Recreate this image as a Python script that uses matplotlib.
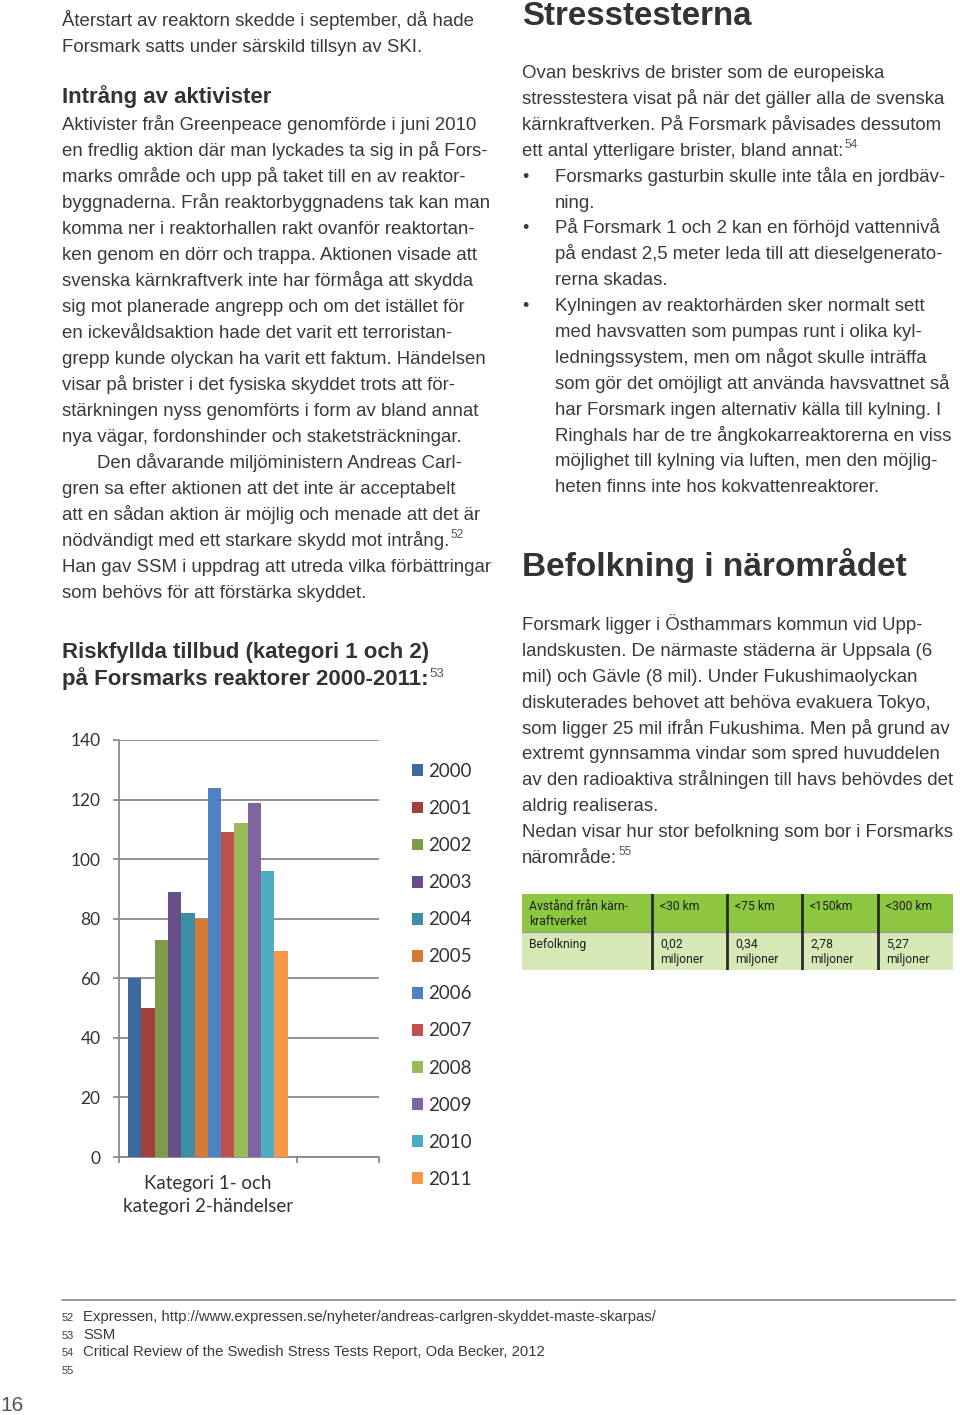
import matplotlib
matplotlib.use('Agg')
import matplotlib.pyplot as plt
from matplotlib.patches import Rectangle, Patch
from matplotlib.lines import Line2D
import numpy as np

# ---------------- data ----------------
years = ['2000', '2001', '2002', '2003', '2004', '2005',
         '2006', '2007', '2008', '2009', '2010', '2011']
events = [60, 50, 73, 89, 82, 80, 124, 109, 112, 119, 96, 69]
category_label = 'Kategori 1- och\nkategori 2-händelser'
y_ticks = [0, 20, 40, 60, 80, 100, 120, 140]
bar_colors = ['#3C699E', '#A23F3C', '#7E9B48', '#684F87', '#3A8FA4', '#D47A33',
              '#4F81C5', '#C0504D', '#9BBB59', '#8064A2', '#4BACC6', '#F79646']

table_header = ['Avstånd från kärn-\nkraftverket', '<30 km', '<75 km', '<150km', '<300 km']
table_row = ['Befolkning', '0,02\nmiljoner', '0,34\nmiljoner', '2,78\nmiljoner', '5,27\nmiljoner']

# ---------------- page setup ----------------
W, H, DPI = 960, 1415, 100
fig = plt.figure(figsize=(W / DPI, H / DPI), dpi=DPI)
fig.patch.set_facecolor('white')

BODY = ['Liberation Sans', 'DejaVu Sans']
BODY_C = '#3a3a3a'
HEAD_C = '#333333'
BODY_FS = 13.45


def fx(x):
    return x / W


def fy(y):
    return 1 - y / H


def txt(x, y, s, size=BODY_FS, weight='normal', color=BODY_C, family=BODY, **kw):
    return fig.text(fx(x), fy(y), s, va='baseline', ha='left', fontsize=size,
                    fontweight=weight, color=color, family=family, **kw)


renderer = fig.canvas.get_renderer()


def sup(t, s, dy=8, size=8.5):
    bb = t.get_window_extent(renderer=renderer)
    x = bb.x1 + 1
    y_base = t.get_position()[1] * H
    fig.text(x / W, (y_base + dy) / H, s, va='baseline', ha='left', fontsize=size,
             color='#555555', family=BODY)


LS = 26.0

# ---------------- left column ----------------
para1 = ["Återstart av reaktorn skedde i september, då hade",
         "Forsmark satts under särskild tillsyn av SKI."]
for i, line in enumerate(para1):
    txt(62, 26 + i * LS, line)

txt(62, 103, "Intrång av aktivister", size=16, weight='bold', color=HEAD_C)

para2 = ["Aktivister från Greenpeace genomförde i juni 2010",
         "en fredlig aktion där man lyckades ta sig in på Fors-",
         "marks område och upp på taket till en av reaktor-",
         "byggnaderna. Från reaktorbyggnadens tak kan man",
         "komma ner i reaktorhallen rakt ovanför reaktortan-",
         "ken genom en dörr och trappa. Aktionen visade att",
         "svenska kärnkraftverk inte har förmåga att skydda",
         "sig mot planerade angrepp och om det istället för",
         "en ickevåldsaktion hade det varit ett terroristan-",
         "grepp kunde olyckan ha varit ett faktum. Händelsen",
         "visar på brister i det fysiska skyddet trots att för-",
         "stärkningen nyss genomförts i form av bland annat",
         "nya vägar, fordonshinder och staketsträckningar.",
         "Den dåvarande miljöministern Andreas Carl-",
         "gren sa efter aktionen att det inte är acceptabelt",
         "att en sådan aktion är möjlig och menade att det är",
         "nödvändigt med ett starkare skydd mot intrång.",
         "Han gav SSM i uppdrag att utreda vilka förbättringar",
         "som behövs för att förstärka skyddet."]
for i, line in enumerate(para2):
    x0 = 97 if line.startswith("Den dåvarande") else 62
    t = txt(x0, 130 + i * LS, line)
    if line.endswith("intrång."):
        sup(t, "52")

t1 = txt(62, 658, "Riskfyllda tillbud (kategori 1 och 2)", size=16, weight='bold', color=HEAD_C)
t2 = txt(62, 685, "på Forsmarks reaktorer 2000-2011:", size=16, weight='bold', color=HEAD_C)
sup(t2, "53", dy=8, size=9.5)

# ---------------- right column ----------------
txt(522, 25, "Stresstesterna", size=23.8, weight='bold', color=HEAD_C)

RLS = 25.9
right_lines = [(None, "Ovan beskrivs de brister som de europeiska"),
               (None, "stresstestera visat på när det gäller alla de svenska"),
               (None, "kärnkraftverken. På Forsmark påvisades dessutom"),
               (None, "ett antal ytterligare brister, bland annat:"),
               ("•", "Forsmarks gasturbin skulle inte tåla en jordbäv-"),
               ("", "ning."),
               ("•", "På Forsmark 1 och 2 kan en förhöjd vattennivå"),
               ("", "på endast 2,5 meter leda till att dieselgenerato-"),
               ("", "rerna skadas."),
               ("•", "Kylningen av reaktorhärden sker normalt sett"),
               ("", "med havsvatten som pumpas runt i olika kyl-"),
               ("", "ledningssystem, men om något skulle inträffa"),
               ("", "som gör det omöjligt att använda havsvattnet så"),
               ("", "har Forsmark ingen alternativ källa till kylning. I"),
               ("", "Ringhals har de tre ångkokarreaktorerna en viss"),
               ("", "möjlighet till kylning via luften, men den möjlig-"),
               ("", "heten finns inte hos kokvattenreaktorer.")]
for i, (b, line) in enumerate(right_lines):
    yb = 78 + i * RLS
    if b is None:
        t = txt(522, yb, line)
        if line.endswith("annat:"):
            sup(t, "54")
    else:
        if b:
            txt(522, yb, b, size=13)
        txt(555, yb, line)

txt(522, 576, "Befolkning i närområdet", size=24, weight='bold', color=HEAD_C)

para3 = ["Forsmark ligger i Östhammars kommun vid Upp-",
         "landskusten. De närmaste städerna är Uppsala (6",
         "mil) och Gävle (8 mil). Under Fukushimaolyckan",
         "diskuterades behovet att behöva evakuera Tokyo,",
         "som ligger 25 mil ifrån Fukushima. Men på grund av",
         "extremt gynnsamma vindar som spred huvuddelen",
         "av den radioaktiva strålningen till havs behövdes det",
         "aldrig realiseras.",
         "Nedan visar hur stor befolkning som bor i Forsmarks",
         "närområde:"]
for i, line in enumerate(para3):
    t = txt(522, 630 + i * RLS, line)
    if line == "närområde:":
        sup(t, "55")

# ---------------- table ----------------
col_edges = [522, 652, 727, 802, 878, 953]
row_edges = [894, 932, 970]
row_colors = ['#8DC63F', '#D6E8B6']
tax = fig.add_axes([fx(col_edges[0]), fy(row_edges[-1]),
                    (col_edges[-1] - col_edges[0]) / W, (row_edges[-1] - row_edges[0]) / H])
tax.set_xlim(col_edges[0], col_edges[-1])
tax.set_ylim(row_edges[-1], row_edges[0])
tax.axis('off')
for r, (cells, rc) in enumerate(zip([table_header, table_row], row_colors)):
    tax.add_patch(Rectangle((col_edges[0], row_edges[r]), col_edges[-1] - col_edges[0],
                            row_edges[r + 1] - row_edges[r], facecolor=rc, edgecolor='none'))
    for c, s in enumerate(cells):
        tax.text(col_edges[c] + (7 if c == 0 else 8), row_edges[r] + 6, s, va='top', ha='left',
                 fontsize=8.7, family=['Roboto', 'DejaVu Sans'], color='#1e1e1e',
                 linespacing=1.2)
tax.plot([col_edges[0], col_edges[-1]], [row_edges[1], row_edges[1]], color='#9a9a9a', lw=0.8)
for xe in col_edges[1:-1]:
    tax.plot([xe, xe], [row_edges[0], row_edges[-1]], color='#2a2a2a', lw=2)

# ---------------- chart ----------------
CH = ['Lato', 'DejaVu Sans']
CH_FS = 12.5
CH_FS2 = 13.5
ax = fig.add_axes([fx(119), fy(1157), (379 - 119) / W, (1157 - 740) / H])
n = len(events)
bw = 0.9 / n
pos = -0.45 + bw * (np.arange(n) + 0.5)
bars = ax.bar(pos, events, width=bw, color=bar_colors, edgecolor='none', zorder=3)
xmax = 0.5 + 82 / 177
ax.set_xlim(-0.5, xmax)
ax.set_ylim(0, 140)
ax.set_yticks(y_ticks)
ax.set_yticklabels([str(v) for v in y_ticks], family=CH, fontsize=CH_FS, color='#333333')
ax.yaxis.grid(True, color='#8a8a8a', lw=1.3, zorder=0)
ax.set_axisbelow(True)
for s in ['top', 'right']:
    ax.spines[s].set_visible(False)
for s in ['left', 'bottom']:
    ax.spines[s].set_color('#8a8a8a')
    ax.spines[s].set_linewidth(1.3)
ax.tick_params(axis='y', direction='out', length=4.3, width=1.3, color='#8a8a8a', pad=9)
ax.set_xticks([-0.5, 0.5, xmax])
ax.set_xticklabels(['', '', ''])
ax.tick_params(axis='x', which='major', direction='out', length=4.3, width=1.3, color='#8a8a8a')
ax.set_xticks([0], labels=[category_label], minor=True)
ax.tick_params(axis='x', which='minor', length=0, pad=13)
for t in ax.get_xticklabels(minor=True):
    t.set_family(CH)
    t.set_fontsize(CH_FS2)
    t.set_color('#333333')
    t.set_linespacing(1.45)
    t.set_ha('center')

handles = [Patch(facecolor=c, edgecolor='none') for c in bar_colors]
leg = ax.legend(handles, years, loc='upper left', bbox_to_anchor=(fx(412), fy(763)),
                bbox_transform=fig.transFigure, frameon=False, borderpad=0, borderaxespad=0,
                handlelength=0.6, handleheight=0.6, handletextpad=0.25,
                labelspacing=1.07, prop={'family': CH, 'size': CH_FS2})
for t in leg.get_texts():
    t.set_color('#333333')

# ---------------- footnotes ----------------
fig.add_artist(Line2D([fx(62), fx(955)], [fy(1300), fy(1300)], transform=fig.transFigure,
                      color='#8a8a8a', lw=1.2))
foot_nums = ['52', '53', '54', '55']
foot_texts = ['Expressen, http://www.expressen.se/nyheter/andreas-carlgren-skyddet-maste-skarpas/',
              'SSM', 'Critical Review of the Swedish Stress Tests Report, Oda Becker, 2012', '']
for i, (nm, ft) in enumerate(zip(foot_nums, foot_texts)):
    yb = 1321 + i * 17.7
    txt(62, yb, nm, size=7.8)
    txt(83, yb, ft, size=10.7)

txt(0, 1411, "16", size=15, color='#555555')

fig.savefig('out.png', dpi=DPI, facecolor='white')
